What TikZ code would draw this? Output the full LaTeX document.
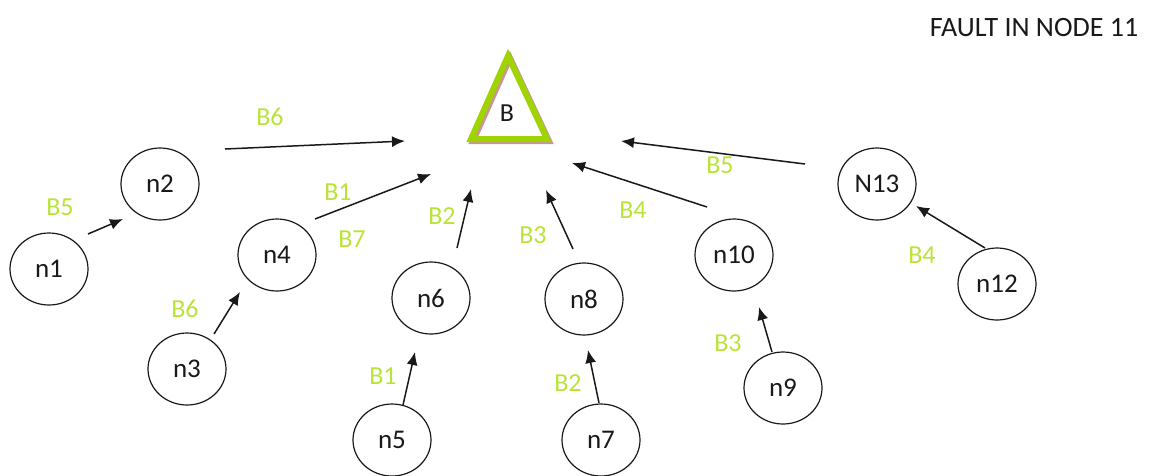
\documentclass[tikz,border=0pt]{standalone}
\usepackage{fontspec}
\setmainfont{Carlito}
\usetikzlibrary{shapes.geometric,arrows.meta}
\definecolor{lbl}{RGB}{185,228,55}
\definecolor{trigreen}{RGB}{160,212,0}
\definecolor{trishadow}{RGB}{200,150,150}
\definecolor{ink}{RGB}{25,25,25}
\tikzset{
  nd/.style={draw=ink,ellipse,line width=1.2pt,minimum width=78pt,minimum height=72pt,
    inner sep=0pt,text=ink,font=\fontsize{27}{30}\selectfont},
  lb/.style={text=lbl,font=\fontsize{26}{30}\selectfont,inner sep=0pt},
  conn/.style={draw=ink,line width=1.5pt,-{Latex[length=13pt,width=11pt]}}
}
\begin{document}
\begin{tikzpicture}[x=1pt,y=-1pt]
\useasboundingbox (0,0) rectangle (1162,475);
% root triangle with its soft shadow
\draw[trishadow,line width=6pt,line join=miter] (510,58) -- (549,141) -- (473,141) -- cycle;
\draw[trigreen,line width=6pt,line join=miter] (508,56) -- (547,139) -- (471,139) -- cycle;
\node[text=ink,font=\fontsize{26}{30}\selectfont] (B) at (507,113) {B};
% title
\node[text=ink,font=\fontsize{28}{32}\selectfont] (title) at (1034,28) {FAULT IN NODE 11};
% nodes
\node[nd] (n1) at (49,269) {n1};
\node[nd] (n2) at (160,184) {n2};
\node[nd] (n3) at (187,369) {n3};
\node[nd] (n4) at (277,255) {n4};
\node[nd] (n5) at (392,440) {n5};
\node[nd] (n6) at (431,298) {n6};
\node[nd] (n7) at (601,440) {n7};
\node[nd] (n8) at (584,299) {n8};
\node[nd] (n9) at (783,388) {n9};
\node[nd] (n10) at (734,255) {n10};
\node[nd] (N13) at (877,184) {N13};
\node[nd] (n12) at (997,284) {n12};
% connector ends
\coordinate (s0) at (225,149);  \coordinate (e0) at (405,141);
\coordinate (s1) at (88,234);   \coordinate (e1) at (123,219);
\coordinate (s2) at (315,219);  \coordinate (e2) at (431,174);
\coordinate (s3) at (214,334);  \coordinate (e3) at (240,292);
\coordinate (s4) at (457,248);  \coordinate (e4) at (471,189);
\coordinate (s5) at (403,405);  \coordinate (e5) at (415,352);
\coordinate (s6) at (573,249);  \coordinate (e6) at (546,190);
\coordinate (s7) at (599,403);  \coordinate (e7) at (588,350);
\coordinate (s8) at (707,207);  \coordinate (e8) at (572,163);
\coordinate (s9) at (772,352);  \coordinate (e9) at (759,307);
\coordinate (s10) at (805,164); \coordinate (e10) at (621,141);
\coordinate (s11) at (985,248); \coordinate (e11) at (916,206);
% connectors
\draw[conn] (s0) -- (e0);
\draw[conn] (s1) -- (e1);
\draw[conn] (s2) -- (e2);
\draw[conn] (s3) -- (e3);
\draw[conn] (s4) -- (e4);
\draw[conn] (s5) -- (e5);
\draw[conn] (s6) -- (e6);
\draw[conn] (s7) -- (e7);
\draw[conn] (s8) -- (e8);
\draw[conn] (s9) -- (e9);
\draw[conn] (s10) -- (e10);
\draw[conn] (s11) -- (e11);
% branch labels
\node[lb] (l0) at (270,117) {B6};
\node[lb] (l1) at (60,207) {B5};
\node[lb] (l2) at (338,192) {B1};
\node[lb] (l3) at (352,239) {B7};
\node[lb] (l4) at (185,309) {B6};
\node[lb] (l5) at (442,216) {B2};
\node[lb] (l6) at (383,376) {B1};
\node[lb] (l7) at (533,235) {B3};
\node[lb] (l8) at (568,383) {B2};
\node[lb] (l9) at (633,210) {B4};
\node[lb] (l10) at (728,343) {B3};
\node[lb] (l11) at (720,165) {B5};
\node[lb] (l12) at (922,255) {B4};
\end{tikzpicture}
\end{document}
